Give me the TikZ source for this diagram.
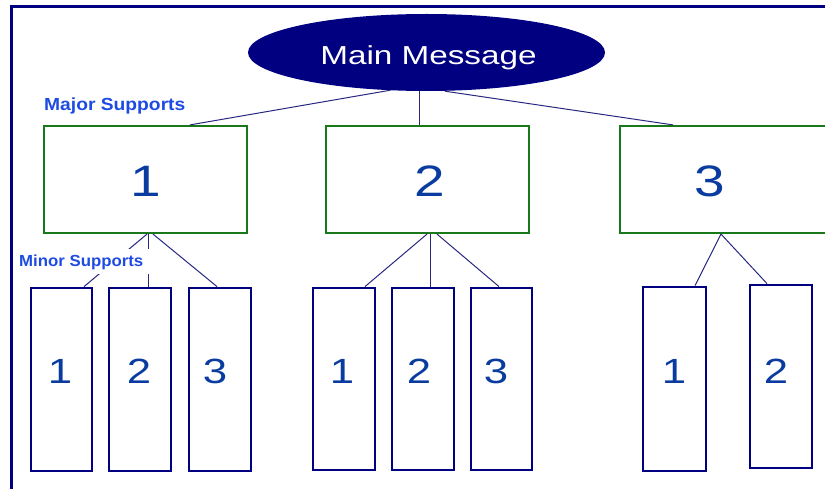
\documentclass[tikz,border=0pt]{standalone}
\usepackage{fontspec}
\setmainfont{Liberation Sans}
\usetikzlibrary{shapes.geometric,calc}
\definecolor{navy}{RGB}{0,0,128}
\definecolor{linknavy}{RGB}{40,40,130}
\definecolor{boxgreen}{RGB}{25,120,25}
\definecolor{digitblue}{RGB}{10,60,160}
\definecolor{labelblue}{RGB}{30,75,225}
\tikzset{
  frame/.style={draw=navy,line width=3pt},
  majorbox/.style={draw=boxgreen,line width=2.2pt,inner sep=0pt,minimum height=107pt},
  minorbox/.style={draw=navy,line width=2.8pt,inner sep=0pt,minimum width=62pt},
  link/.style={draw=linknavy,line width=1pt},
  bigdigit/.style={text=digitblue,anchor=base,inner sep=0pt,font=\fontsize{44}{44}\selectfont},
  smalldigit/.style={text=digitblue,anchor=base,inner sep=0pt,font=\fontsize{35}{35}\selectfont},
  tag/.style={text=labelblue,anchor=base west,font=\bfseries}
}
\newcommand{\wide}[1]{\scalebox{1.25}[1]{#1}}
\begin{document}
\begin{tikzpicture}[x=1pt,y=-1pt]
\useasboundingbox (0,0) rectangle (825,489);

% outer frame (runs off the right and bottom edges)
\coordinate (ftr) at (825,7);
\coordinate (ftl) at (11.5,7);
\coordinate (fbl) at (11.5,489);
\draw[frame] (ftr) -- (ftl) -- (fbl);

% main message
\node[ellipse,fill=navy,inner sep=0pt,minimum width=357pt,minimum height=77pt] (main) at (426.5,52.5) {};
\node[anchor=base,text=white,inner sep=0pt,font=\fontsize{26}{26}\selectfont] (maintext) at (428.5,65) {\scalebox{1.28}[1]{Main Message}};

% major supports
\node[majorbox,minimum width=203pt] (M1) at (145.5,179.5) {};
\node[majorbox,minimum width=203pt] (M2) at (427.5,179.5) {};
\node[majorbox,minimum width=215pt] (M3) at (727.5,179.5) {};
\node[bigdigit] (d1) at (146,197) {\wide{1}};
\node[bigdigit] (d2) at (430,197) {\wide{2}};
\node[bigdigit] (d3) at (710,197) {\wide{3}};

% minor supports
\node[minorbox,minimum width=61pt,minimum height=183pt] (a1) at (61.5,379.5) {};
\node[minorbox,minimum height=183pt] (a2) at (140,379.5) {};
\node[minorbox,minimum height=183pt] (a3) at (220,379.5) {};
\node[minorbox,minimum height=182pt] (b1) at (344,379) {};
\node[minorbox,minimum height=182pt] (b2) at (423,379) {};
\node[minorbox,minimum width=61pt,minimum height=182pt] (b3) at (501.5,379) {};
\node[minorbox,minimum width=63pt,minimum height=184pt] (c1) at (674.5,379) {};
\node[minorbox,minimum height=183pt] (c2) at (781,376.5) {};

\node[smalldigit] (a1n) at (60,383) {\wide{1}};
\node[smalldigit] (a2n) at (139,383) {\wide{2}};
\node[smalldigit] (a3n) at (215,383) {\wide{3}};
\node[smalldigit] (b1n) at (342,383) {\wide{1}};
\node[smalldigit] (b2n) at (419,383) {\wide{2}};
\node[smalldigit] (b3n) at (496,383) {\wide{3}};
\node[smalldigit] (c1n) at (674,383) {\wide{1}};
\node[smalldigit] (c2n) at (776,383) {\wide{2}};

% connectors: main message to major supports
\draw[link] ($(main.south)+(-36,-1)$) -- ($(M1.north)+(44.5,0)$);
\draw[link] ($(main.south)+(-7.5,0)$) -- ($(M2.north)+(-8.5,0)$);
\draw[link] ($(main.south)+(18.5,0)$) -- ($(M3.north)+(-54.5,0)$);

% connectors: major supports to minor supports
\draw[link] ($(M1.south)+(1.5,0)$) -- ($(a1.north)+(22.5,0)$);
\draw[link] ($(M1.south)+(2.5,0)$) -- ($(a2.north)+(8,0)$);
\draw[link] ($(M1.south)+(7.5,0)$) -- ($(a3.north)+(-3,0)$);
\draw[link] ($(M2.south)+(-0.5,0)$) -- ($(b1.north)+(21,0)$);
\draw[link] ($(M2.south)+(2.5,0)$) -- ($(b2.north)+(7,0)$);
\draw[link] ($(M2.south)+(9.5,0)$) -- ($(b3.north)+(-2.5,0)$);
\draw[link] ($(M3.south)+(-6.5,0)$) -- ($(c1.north)+(20.5,0)$);
\draw[link] ($(M3.south)+(-6.5,0)$) -- ($(c2.north)+(-14,0)$);

% level labels
\node[tag,inner sep=0pt,font=\bfseries\fontsize{17.5}{17.5}\selectfont] (majorlbl) at (44,111) {\scalebox{1.1}[1]{Major Supports}};
\node[tag,fill=white,inner xsep=6pt,inner ysep=5pt,font=\bfseries\fontsize{16}{16}\selectfont] (minorlbl) at (13,266) {\scalebox{1.05}[1]{Minor Supports}};
\end{tikzpicture}
\end{document}
